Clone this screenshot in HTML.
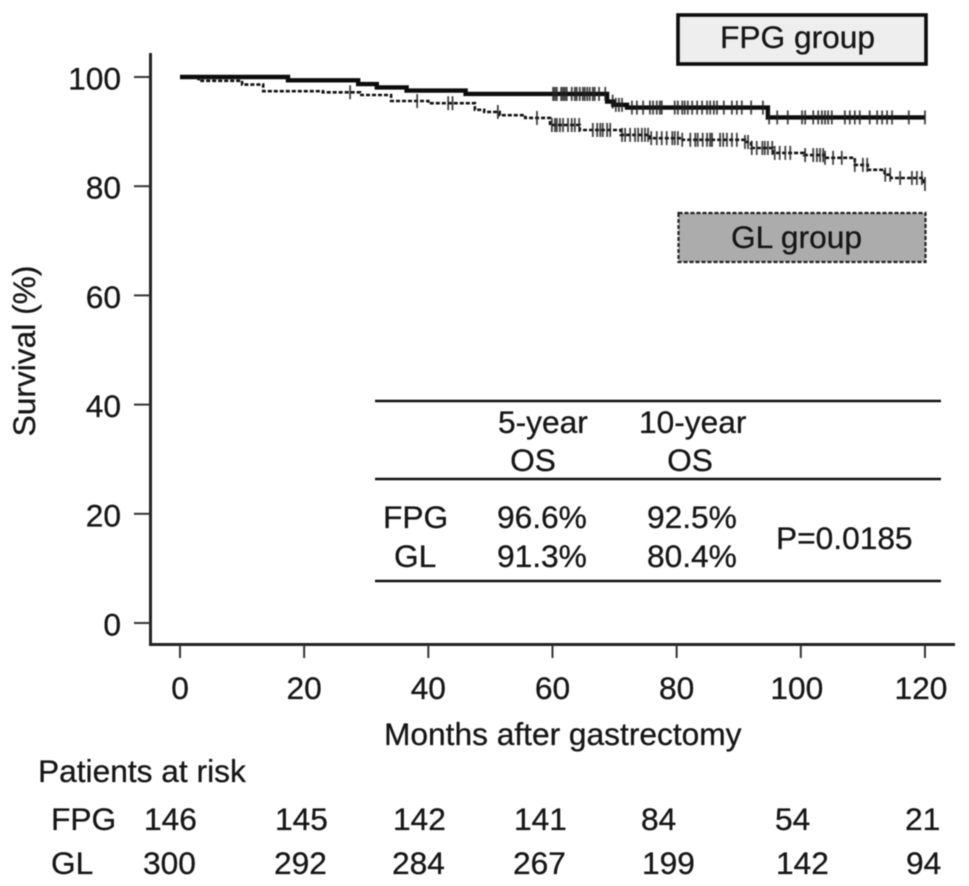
<!DOCTYPE html>
<html lang="en">
<head>
<meta charset="utf-8">
<title>Survival after gastrectomy</title>
<style>
html,body{margin:0;padding:0;background:#fff;width:969px;height:886px;overflow:hidden}
svg{display:block;filter:blur(.5px)}
text{font-family:"Liberation Sans",Arial,sans-serif;font-size:31.7px;fill:#161616;stroke:#161616;stroke-width:.3px}
</style>
</head>
<body>
<svg id="chart" xmlns="http://www.w3.org/2000/svg" width="969" height="886" viewBox="0 0 969 886">
  <rect width="969" height="886" fill="#fff"/>
  <g id="axes"></g>
  <g id="series"></g>

  <g>
    <rect x="678" y="15" width="248" height="49" fill="#eeeeee" stroke="#0c0c0c" stroke-width="3.6"/>
    <text x="720" y="48">FPG group</text>
  </g>
  <g>
    <rect x="678.5" y="213" width="247" height="49" fill="#acacac" stroke="#222" stroke-width="2.2" stroke-dasharray="4 2"/>
    <text x="731" y="248">GL group</text>
  </g>

  <g>
    <line x1="375" x2="941" y1="401" y2="401" stroke="#111" stroke-width="2.4"/>
    <line x1="375" x2="941" y1="479" y2="479" stroke="#111" stroke-width="2.4"/>
    <line x1="375" x2="941" y1="581" y2="581" stroke="#111" stroke-width="2.4"/>
    <text x="498" y="433">5-year</text>
    <text x="533" y="471" text-anchor="middle">OS</text>
    <text x="639" y="433">10-year</text>
    <text x="690" y="471" text-anchor="middle">OS</text>
    <text x="383" y="528">FPG</text>
    <text x="394" y="567">GL</text>
    <text x="497" y="528">96.6%</text>
    <text x="497" y="567">91.3%</text>
    <text x="647" y="528">92.5%</text>
    <text x="647" y="567">80.4%</text>
    <text x="776" y="549">P=0.0185</text>
  </g>

  <text transform="translate(35 351) rotate(-90)" text-anchor="middle">Survival (%)</text>
  <text x="384" y="745">Months after gastrectomy</text>

  <g>
    <text x="38" y="782">Patients at risk</text>
    <text x="51" y="830">FPG</text>
    <text x="144" y="830">146</text>
    <text x="275" y="830">145</text>
    <text x="393" y="830">142</text>
    <text x="514" y="830">141</text>
    <text x="641" y="830">84</text>
    <text x="775" y="830">54</text>
    <text x="905" y="830">21</text>
    <text x="51" y="874">GL</text>
    <text x="143" y="874">300</text>
    <text x="274" y="874">292</text>
    <text x="392" y="874">284</text>
    <text x="513" y="874">267</text>
    <text x="642" y="874">199</text>
    <text x="776" y="874">142</text>
    <text x="906" y="874">94</text>
  </g>
</svg>
<script>
const xTicks = [0, 20, 40, 60, 80, 100, 120];
const yTicks = [0, 20, 40, 60, 80, 100];

const fpgMonths = [0, 17.4, 28.7, 31.7, 36.5, 46, 68.8, 69.8, 72, 94.7, 120];
const fpgSurvival = [100, 99.4, 98.7, 98.1, 97.5, 96.9, 95.5, 94.9, 94.4, 92.6, 92.6];
const fpgCensored = [60.1, 60.4, 60.7, 61.4, 61.7, 62.0, 62.3, 63.1, 63.6, 63.9, 64.4, 64.9, 65.2, 65.6, 66.0, 66.5, 66.8, 67.5, 68.5, 69.7, 70.2, 70.7, 71.2, 72.8, 73.6, 74.6, 75.7, 76.2, 76.8, 77.3, 77.6, 79.7, 80.2, 80.9, 81.3, 81.8, 82.5, 83.3, 84.1, 84.9, 85.4, 86.0, 86.5, 87.6, 88.9, 89.7, 90.5, 92.0, 93.9, 94.9, 96.2, 97.9, 100.2, 100.7, 102.0, 102.8, 103.4, 103.9, 104.4, 105.0, 107.1, 107.9, 108.7, 109.5, 111.1, 112.3, 113.1, 113.9, 114.7, 117.4, 120];

const glMonths = [0, 3, 10, 13.4, 23, 29, 34, 40, 47.5, 49, 51.5, 55.6, 59.6, 64.4, 71, 75.7, 80.5, 91, 92, 95.5, 100.5, 103.8, 108.7, 110.8, 113.5, 114.5, 119.8, 120];
const glSurvival = [100, 99.3, 98.6, 97.4, 97.2, 96.7, 95.6, 95.2, 94.0, 93.6, 93.0, 92.5, 91.2, 90.3, 89.4, 88.8, 88.5, 88.1, 87.0, 86.1, 85.7, 85.2, 83.9, 83.0, 82.1, 81.5, 80.4, 80.4];
const glCensored = [27.4, 38.2, 43.2, 43.9, 51.2, 57.5, 59.9, 60.4, 60.7, 61.2, 61.7, 62.5, 63.1, 63.6, 64.3, 66.5, 67.2, 67.7, 68.1, 68.8, 69.3, 71.2, 71.7, 72.5, 73.3, 73.8, 74.4, 74.9, 75.4, 75.9, 76.8, 77.6, 78.4, 79.3, 79.7, 80.2, 80.9, 82.2, 83.0, 83.4, 84.2, 84.9, 85.4, 85.7, 87.0, 87.5, 88.1, 88.9, 89.7, 91.0, 91.5, 92.1, 92.9, 93.8, 94.2, 94.7, 95.4, 95.8, 96.6, 97.5, 98.3, 100.7, 102.0, 102.6, 103.1, 103.6, 103.9, 105.2, 106.6, 108.7, 110.0, 110.7, 113.6, 114.4, 116.0, 117.9, 118.7, 119.5, 120];

const SVG_NS = 'http://www.w3.org/2000/svg';
function xScale(month) { return 180 + month * 6.208; }
function yScale(pct) { return 623 - pct * 5.46; }

function make(tag, parent, attrs, text) {
  const el = document.createElementNS(SVG_NS, tag);
  Object.keys(attrs).forEach(function (k) { el.setAttribute(k, attrs[k]); });
  if (text !== undefined) el.textContent = text;
  parent.appendChild(el);
  return el;
}

function stepPath(months, values) {
  let d = 'M' + xScale(months[0]).toFixed(1) + ' ' + yScale(values[0]).toFixed(1);
  for (let i = 1; i < months.length; i++) {
    d += 'H' + xScale(months[i]).toFixed(1) + 'V' + yScale(values[i]).toFixed(1);
  }
  return d;
}

function valueAt(months, values, month) {
  let v = values[0];
  for (let i = 0; i < months.length; i++) {
    if (months[i] <= month) v = values[i];
  }
  return v;
}

const axes = document.getElementById('axes');
const series = document.getElementById('series');

const yAxis = make('line', axes, { x1: 150.5, x2: 150.5, y1: 53, y2: 645, stroke: '#222', 'stroke-width': 3 });


const xAxis = make('line', axes, { x1: 149, x2: 955, y1: 644.5, y2: 644.5, stroke: '#222', 'stroke-width': 3 });



yTicks.forEach(function (t) {
  const mark = make('line', axes, { x1: 134, x2: 150, y1: yScale(t), y2: yScale(t), stroke: '#333', 'stroke-width': 2 });
  
  
  const label = make('text', axes, { x: 121, y: yScale(t) + 12.5, 'text-anchor': 'end' }, String(t));
  
  
});

xTicks.forEach(function (t) {
  const mark = make('line', axes, { x1: xScale(t), x2: xScale(t), y1: 645, y2: 658, stroke: '#333', 'stroke-width': 2 });
  
  
  const label = make('text', axes, { x: xScale(t) - (t >= 100 ? 4 : 0), y: 699, 'text-anchor': 'middle' }, String(t));
  
  
});

const glLine = make('path', series, { d: stepPath(glMonths, glSurvival), fill: 'none', stroke: '#111', 'stroke-width': 2.6, 'stroke-dasharray': '4 2' });



glCensored.forEach(function (m) {
  const y = yScale(valueAt(glMonths, glSurvival, m));
  const tick = make('line', series, { x1: xScale(m), x2: xScale(m), y1: y - 7, y2: y + 7, stroke: '#222', 'stroke-width': 1.8, opacity: 0.85 });
  
  
});

const fpgLine = make('path', series, { d: stepPath(fpgMonths, fpgSurvival), fill: 'none', stroke: '#0c0c0c', 'stroke-width': 4.4 });



fpgCensored.forEach(function (m) {
  const y = yScale(valueAt(fpgMonths, fpgSurvival, m));
  const tick = make('line', series, { x1: xScale(m), x2: xScale(m), y1: y - 7, y2: y + 7, stroke: '#222', 'stroke-width': 1.8, opacity: 0.85 });
  
  
});
</script>
</body>
</html>
